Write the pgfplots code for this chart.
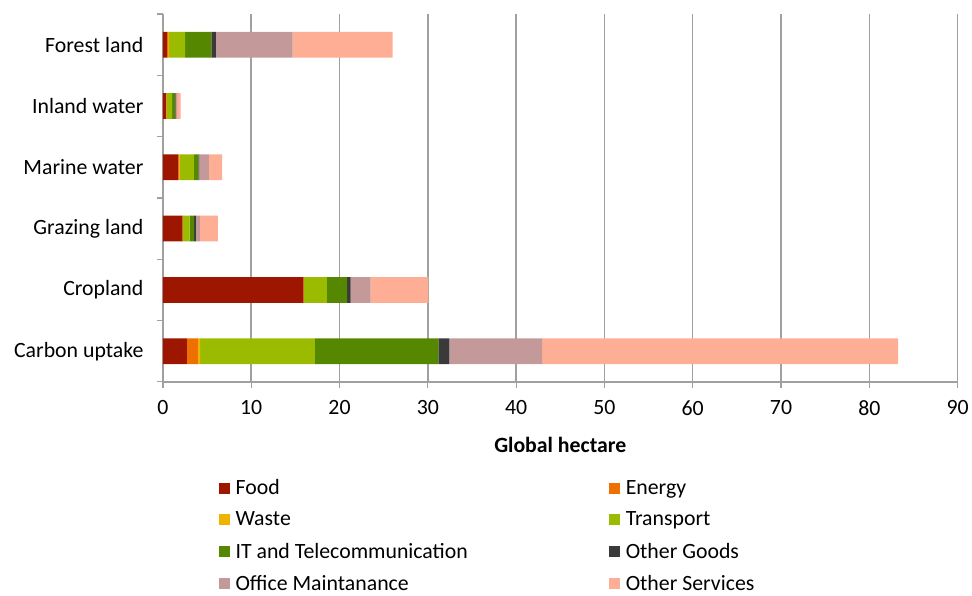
\documentclass[border=0pt]{standalone}
\usepackage{pgfplots}
\pgfplotsset{compat=1.18}
\usepackage{fontspec}
\setmainfont{Carlito}
\definecolor{food}{RGB}{156,22,0}
\definecolor{energy}{RGB}{238,112,0}
\definecolor{waste}{RGB}{238,180,0}
\definecolor{transport}{RGB}{155,187,0}
\definecolor{itc}{RGB}{85,136,0}
\definecolor{goods}{RGB}{58,58,58}
\definecolor{office}{RGB}{196,153,153}
\definecolor{services}{RGB}{255,174,150}
\definecolor{gridgray}{RGB}{160,160,160}
\begin{document}
\begin{tikzpicture}
\begin{axis}[name=ax,
  scale only axis, width=795pt, height=368pt,
  xbar stacked, bar width=0.42,
  xmin=0, xmax=90, ymin=-0.5, ymax=5.5,
  xtick={0,10,...,90},
  ytick={0,...,5},
  yticklabels={Carbon uptake, Cropland, Grazing land, Marine water, Inland water, Forest land},
  minor ytick={-0.5,0.5,...,5.5},
  axis x line*=bottom, axis y line*=left,
  axis line style={draw=gridgray, line width=1.5pt, -},
  xmajorgrids, major grid style={draw=gridgray, line width=1.5pt},
  tick align=outside, major tick length=6pt, minor tick length=6pt,
  every tick/.style={draw=gridgray, line width=1.2pt},
  every major y tick/.append style={draw=none},
  /pgf/number format/assume math mode=true,
  tick label style={font=\fontsize{21.8}{25}\selectfont},
  yticklabel style={xshift=-10pt},
  xticklabel style={yshift=-9pt},
  xlabel={\textbf{Global hectare}},
  xlabel style={font=\fontsize{21.8}{25}\selectfont, at={(axis description cs:0.5,-0.171)}, anchor=center},
  legend columns=2,
  legend cell align=left,
  legend image code/.code={\fill[#1] (0pt,-5.5pt) rectangle (11pt,5.5pt);},
  legend style={at={(axis description cs:0.066,-0.255)}, anchor=north west, draw=none, fill=none,
    font=\fontsize{21.8}{25}\selectfont, row sep=11.5pt,
    /tikz/every odd column/.append style={column sep=4pt},
    /tikz/every even column/.append style={column sep=139pt}},
]
\addplot[fill=food, draw=none] coordinates {(2.7,0) (15.9,1) (2.2,2) (1.7,3) (0.35,4) (0.45,5)};
\addlegendentry{Food}
\addplot[fill=energy, draw=none] coordinates {(1.25,0) (0.05,1) (0.05,2) (0.15,3) (0.05,4) (0.15,5)};
\addlegendentry{Energy}
\addplot[fill=waste, draw=none] coordinates {(0.25,0) (0.02,1) (0.02,2) (0.05,3) (0.05,4) (0.1,5)};
\addlegendentry{Waste}
\addplot[fill=transport, draw=none] coordinates {(13.0,0) (2.6,1) (0.75,2) (1.6,3) (0.6,4) (1.8,5)};
\addlegendentry{Transport}
\addplot[fill=itc, draw=none] coordinates {(14.0,0) (2.3,1) (0.5,2) (0.5,3) (0.3,4) (3.0,5)};
\addlegendentry{IT and Telecommunication}
\addplot[fill=goods, draw=none] coordinates {(1.25,0) (0.4,1) (0.2,2) (0.1,3) (0.1,4) (0.5,5)};
\addlegendentry{Other Goods}
\addplot[fill=office, draw=none] coordinates {(10.5,0) (2.25,1) (0.45,2) (1.1,3) (0.15,4) (8.7,5)};
\addlegendentry{Office Maintanance}
\addplot[fill=services, draw=none] coordinates {(40.3,0) (6.55,1) (2.05,2) (1.5,3) (0.4,4) (11.3,5)};
\addlegendentry{Other Services}
\end{axis}
\path ([xshift=-163pt,yshift=-212pt]ax.south west) rectangle ([xshift=14pt,yshift=14pt]ax.north east);
\end{tikzpicture}
\end{document}
